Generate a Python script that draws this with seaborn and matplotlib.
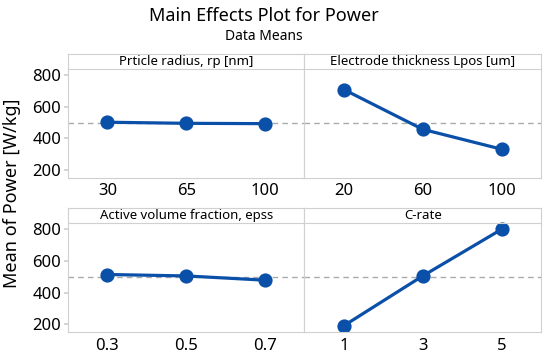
import matplotlib
matplotlib.use("Agg")
import matplotlib.pyplot as plt
import seaborn as sns
import pandas as pd

# Main effects data (means)
particle_levels = ["30", "65", "100"]
particle_power = [503, 496, 494]
electrode_levels = ["20", "60", "100"]
electrode_power = [710, 458, 332]
epss_levels = ["0.3", "0.5", "0.7"]
epss_power = [514, 505, 478]
crate_levels = ["1", "3", "5"]
crate_power = [190, 505, 800]
grand_mean = 498

panel_titles = ["Prticle radius, rp [nm]", "Electrode thickness Lpos [um]",
                "Active volume fraction, epss", "C-rate"]
panel_levels = [particle_levels, electrode_levels, epss_levels, crate_levels]
panel_power = [particle_power, electrode_power, epss_power, crate_power]

sns.set_theme(style="white")
plt.rcParams["font.family"] = ["Noto Sans", "DejaVu Sans"]
plt.rcParams["text.color"] = "black"
plt.rcParams["xtick.color"] = "black"
plt.rcParams["ytick.color"] = "black"

line_color = "#0b50a8"
edge_gray = "#d0d0d0"
ylo, yhi = 150, 935
header_y = 840

fig = plt.figure(figsize=(5.5, 3.58), dpi=100)
left, right = 0.1236, 0.9836
w = (right - left) / 2
rows = [(0.503, 0.849), (0.0726, 0.419)]

for i in range(4):
    r, c = divmod(i, 2)
    b, t = rows[r]
    ax = fig.add_axes([left + c * w, b, w, t - b])
    df = pd.DataFrame({"level": panel_levels[i], "power": panel_power[i]})
    sns.pointplot(data=df, x="level", y="power", ax=ax, color=line_color,
                  markersize=8.5, linewidth=2.3)
    ax.axhline(grand_mean, color="#aaaaaa", ls=(0, (4, 3)), lw=1, zorder=0)
    ax.axhline(header_y, color=edge_gray, lw=0.8)
    ax.set_xlim(-0.5, 2.5)
    ax.set_ylim(ylo, yhi)
    ax.set_yticks([200, 400, 600, 800])
    ax.set_xlabel("")
    ax.set_ylabel("")
    ax.text(0.5, ((header_y + yhi) / 2 - ylo) / (yhi - ylo), panel_titles[i],
            transform=ax.transAxes, ha="center", va="center", fontsize=9.5,
            color="black")
    for s in ax.spines.values():
        s.set_color(edge_gray)
        s.set_linewidth(0.8)
    ax.tick_params(axis="x", labelsize=12, length=0, pad=4, labelcolor="black")
    ax.tick_params(axis="y", labelsize=12, length=3, color=edge_gray, pad=2,
                   labelcolor="black", left=(c == 0), labelleft=(c == 0))

fig.text(0.479, 0.955, "Main Effects Plot for Power", ha="center", va="center",
         fontsize=13, color="black")
fig.text(0.479, 0.898, "Data Means", ha="center", va="center", fontsize=10,
         color="black")
fig.text(0.022, 0.46, "Mean of Power [W/kg]", ha="center", va="center",
         rotation=90, fontsize=13, color="black")

fig.savefig("out.png", dpi=100)
